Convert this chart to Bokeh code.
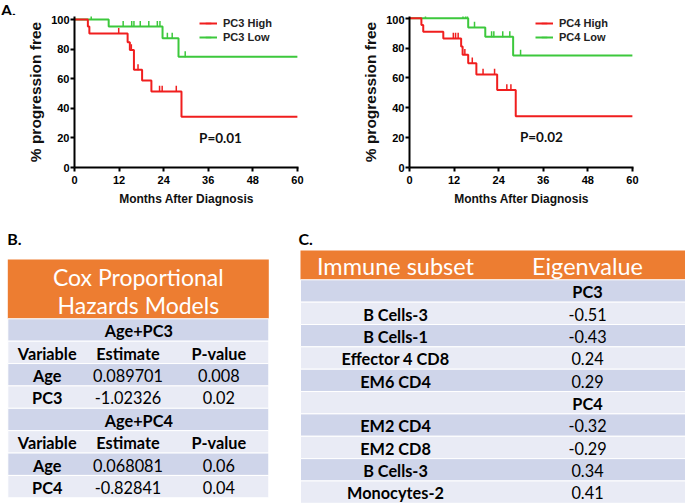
import numpy as np
from bokeh.plotting import figure
from bokeh.models import Range1d, FixedTicker, Legend, LegendItem, Label
from bokeh.layouts import column, row
from bokeh.core.properties import value
from bokeh.embed import file_html
from bokeh.resources import INLINE

# ---------------- data ----------------
month_ticks = [0, 12, 24, 36, 48, 60]
pct_ticks = [0, 20, 40, 60, 80, 100]

# Kaplan-Meier steps (time in months, % progression free)
pc3_high_t = [0, 3.6, 4.0, 14.3, 14.9, 16.0, 18.2, 20.7, 28.8, 60]
pc3_high_s = [100, 95.2, 90.5, 84.7, 79.4, 66.0, 58.7, 51.4, 34.3, 34.3]
pc3_high_c = [11.9, 15.3, 17.1, 22.9, 23.6, 27.4]
pc3_low_t = [0, 9.2, 23.7, 28.0, 60]
pc3_low_s = [100, 95.2, 87.3, 74.8, 74.8]
pc3_low_c = [4.5, 13.1, 15.4, 16.0, 17.7, 20.0, 22.3, 23.0, 25.0, 26.3, 29.8]

pc4_high_t = [0, 3.2, 3.7, 9.1, 13.9, 14.3, 15.8, 18.0, 23.6, 28.6, 60]
pc4_high_s = [100, 95.5, 90.9, 86.4, 81.0, 75.6, 69.8, 62.3, 51.9, 34.4, 34.4]
pc4_high_c = [11.8, 12.4, 13.1, 14.9, 16.9, 19.8, 22.9, 26.2, 27.3]
pc4_low_t = [0, 15.8, 20.4, 27.9, 60]
pc4_low_s = [100, 93.8, 87.5, 75.0, 75.0]
pc4_low_c = [4.3, 14.4, 15.1, 15.6, 17.5, 22.1, 22.7, 25.1, 27.0, 29.9]

p_values = ["P=0.01", "P=0.02"]

# Cox table
cox_title = ["Cox Proportional", "Hazards Models"]
cox_models = ["Age+PC3", "Age+PC4"]
cox_header = ["Variable", "Estimate", "P-value"]
cox_vars = [["Age", "PC3"], ["Age", "PC4"]]
cox_est = [["0.089701", "-1.02326"], ["0.068081", "-0.82841"]]
cox_p = [["0.008", "0.02"], ["0.06", "0.04"]]

# Immune subset table
imm_header = ["Immune subset", "Eigenvalue"]
imm_pcs = ["PC3", "PC4"]
pc3_subsets = ["B Cells-3", "B Cells-1", "Effector 4 CD8", "EM6 CD4"]
pc3_eig = [-0.51, -0.43, 0.24, 0.29]
pc4_subsets = ["EM2 CD4", "EM2 CD8", "B Cells-3", "Monocytes-2"]
pc4_eig = [-0.32, -0.29, 0.34, 0.41]

# ---------------- layout constants ----------------
W, H = 685, 503
STRIP_H = 15                 # strip holding the "A." label
TOP_H = 215                  # bottom of the KM row
KM_H = TOP_H - STRIP_H
BOT_H = H - TOP_H
KM1_W = 340
KM2_W = W - KM1_W
TB_W = 285
TC_W = W - TB_W
FRAME_TOP = 16               # page row of KM frame top
FRAME_BOT = 167              # page row of KM x axis

RED = "#F01E1E"
GREEN = "#3CC83C"
ORANGE = "#ED7D31"
DARK = "#CFD5EA"
LIGHT = "#E9EBF5"
AXFONT = "Liberation Sans"
TFONT = "Lato"


def surv_at(ts, ss, cs):
    ts = np.asarray(ts, dtype=float)
    ss = np.asarray(ss, dtype=float)
    idx = np.searchsorted(ts, np.asarray(cs, dtype=float), side="right") - 1
    return ss[idx]


def km_figure(width, canvas_left_ref, x0_ref, x60_ref, y100_ref,
              series, p_text, p_xy, legend_left_ref):
    ppm = (x60_ref - x0_ref) / 60.0
    ppp = (FRAME_BOT - y100_ref) / 100.0
    xmax = 60.3
    ymax = (FRAME_BOT - FRAME_TOP) / ppp
    left = round(x0_ref - canvas_left_ref)
    right = width - round(x0_ref + xmax * ppm - canvas_left_ref)
    p = figure(width=width, height=KM_H, x_range=Range1d(0, xmax), y_range=Range1d(0, ymax),
               title=None,
               min_border_left=left, min_border_right=right,
               min_border_top=FRAME_TOP - STRIP_H, min_border_bottom=TOP_H - FRAME_BOT,
               output_backend="svg", toolbar_location=None, outline_line_color=None)
    p.grid.visible = False
    p.xaxis.ticker = FixedTicker(ticks=month_ticks)
    p.yaxis.ticker = FixedTicker(ticks=pct_ticks)
    p.xaxis.axis_label = "Months After Diagnosis"
    p.yaxis.axis_label = "% progression free"
    for ax in (p.xaxis[0], p.yaxis[0]):
        ax.axis_line_width = 2
        ax.axis_line_color = "black"
        ax.major_tick_line_width = 2
        ax.major_tick_line_color = "black"
        ax.major_tick_out = 4
        ax.major_tick_in = 0
        ax.minor_tick_line_color = None
        ax.major_label_text_font = AXFONT
        ax.major_label_text_font_style = "bold"
        ax.major_label_text_font_size = "11px"
        ax.major_label_text_color = "black"
        ax.axis_label_text_font = AXFONT
        ax.axis_label_text_font_style = "bold"
        ax.axis_label_text_color = "#111111"
    p.xaxis.major_label_standoff = 4
    p.xaxis.axis_label_standoff = 5
    p.xaxis.axis_label_text_font_size = "12px"
    p.yaxis.major_label_standoff = 1
    p.yaxis.axis_label_standoff = 4
    p.yaxis.axis_label_text_font_size = "15.5px"

    rends = {}
    for (label, ts, ss, cs, color) in series:
        ln = p.step(x=ts, y=ss, mode="after", line_color=color, line_width=2)
        cy = surv_at(ts, ss, cs) + 1.8
        sc = p.scatter(x=cs, y=cy, marker="dash", angle=np.pi / 2, size=6,
                       line_color=color, line_width=1.5, fill_color=color)
        rends[label] = (ln, sc)
    items = [LegendItem(label=label, renderers=list(rends[label]))
             for (label, ts, ss, cs, color) in reversed(series)]
    lx = round(legend_left_ref - x0_ref)
    ly = round(FRAME_BOT - 44.0)
    leg = Legend(items=items, location=(lx, ly), orientation="vertical",
                 glyph_width=18, glyph_height=14, label_height=14, spacing=0,
                 padding=0, margin=0, label_standoff=6,
                 border_line_color=None, background_fill_alpha=0,
                 label_text_font=AXFONT, label_text_font_style="bold",
                 label_text_font_size="11px", label_text_color="#222222")
    p.add_layout(leg, "center")

    p.add_layout(Label(x=p_xy[0], y=p_xy[1], text=p_text, text_align="center",
                       text_baseline="middle", text_font=TFONT, text_font_style="bold",
                       text_font_size="13.5px", text_color="#111111"))
    return p


def text_fig(width, y_top, height, x_start):
    p = figure(width=width, height=height,
               x_range=Range1d(x_start, x_start + width),
               y_range=Range1d(y_top + height, y_top), title=None,
               min_border=0, min_border_left=0, min_border_right=0,
               min_border_top=0, min_border_bottom=0,
               x_axis_location=None, y_axis_location=None,
               output_backend="svg", toolbar_location=None, outline_line_color=None)
    p.grid.visible = False
    return p


def put_text(p, xs, ys, texts, size, style="normal", color="black", align="center"):
    p.text(x=xs, y=ys, text=texts, text_align=align, text_baseline="middle",
           text_font=value(TFONT), text_font_size=value(size), text_font_style=style,
           text_color=color)


# ---- strip with panel label A ----
strip = text_fig(W, 0, STRIP_H, 0)
put_text(strip, [0.5], [8.5], ["A."], "16px", style="bold", align="left")

# series drawn green first, red on top
km1 = km_figure(KM1_W, 0, 74.0, 297.3, 19.0,
                [("PC3 Low", pc3_low_t, pc3_low_s, pc3_low_c, GREEN),
                 ("PC3 High", pc3_high_t, pc3_high_s, pc3_high_c, RED)],
                p_values[0], (39.3, 20.1), 199.0)
km2 = km_figure(KM2_W, 340, 409.0, 632.0, 17.7,
                [("PC4 Low", pc4_low_t, pc4_low_s, pc4_low_c, GREEN),
                 ("PC4 High", pc4_high_t, pc4_high_s, pc4_high_c, RED)],
                p_values[1], (35.5, 20.3), 535.0)

# ---- Table B ----
tb = text_fig(TB_W, TOP_H, BOT_H, 0)
bL, bR, bHt, bHb, bRow = 7.3, 268.3, 259.0, 318.3, 22.375
tb.quad(left=[bL], right=[bR], top=[bHt], bottom=[bHb], fill_color=ORANGE, line_color=None)
rows_b = []
for m, model in enumerate(cox_models):
    rows_b.append(("section", model))
    rows_b.append(("header", cox_header))
    for v in range(len(cox_vars[m])):
        rows_b.append(("data", [cox_vars[m][v], cox_est[m][v], cox_p[m][v]]))
tops = [bHb + i * bRow for i in range(len(rows_b))]
tb.quad(left=[bL] * len(rows_b), right=[bR] * len(rows_b), top=tops,
        bottom=[t + bRow for t in tops],
        fill_color=[DARK if i % 2 == 0 else LIGHT for i in range(len(rows_b))],
        line_color="white", line_width=1)
put_text(tb, [137.8, 137.8], [276.5, 304.0], cox_title, "23px", color="white")
colx_b = [46.7, 127.5, 218.3]
for i, (kind, content) in enumerate(rows_b):
    yc = tops[i] + bRow / 2 + 0.8
    if kind == "section":
        put_text(tb, [138.3], [yc], [content], "16.3px", style="bold")
    elif kind == "header":
        put_text(tb, colx_b, [yc] * 3, content, "16.3px", style="bold")
    else:
        put_text(tb, [colx_b[0]], [yc], [content[0]], "16.3px", style="bold")
        put_text(tb, colx_b[1:], [yc] * 2, content[1:], "16.3px")
put_text(tb, [6.7], [238.0], ["B."], "16px", style="bold", align="left")

# ---- Table C ----
tc = text_fig(TC_W, TOP_H, BOT_H, TB_W)
cL, cR, cHt, cHb, cRow = 300.0, 685.0, 250.0, 279.3, 22.35
tc.quad(left=[cL], right=[cR], top=[cHt], bottom=[cHb], fill_color=ORANGE, line_color=None)
rows_c = []
for pc, subs, eigs in zip(imm_pcs, [pc3_subsets, pc4_subsets], [pc3_eig, pc4_eig]):
    rows_c.append(("section", pc))
    for s, e in zip(subs, eigs):
        rows_c.append(("data", [s, f"{e:.2f}"]))
tops_c = [cHb + i * cRow for i in range(len(rows_c))]
tc.quad(left=[cL] * len(rows_c), right=[cR] * len(rows_c), top=tops_c,
        bottom=[t + cRow for t in tops_c],
        fill_color=[DARK if i % 2 == 0 else LIGHT for i in range(len(rows_c))],
        line_color="white", line_width=1)
colx_c = [395.0, 587.0]
put_text(tc, colx_c, [265.0, 265.0], imm_header, "23.5px", color="white")
for i, (kind, content) in enumerate(rows_c):
    yc = tops_c[i] + cRow / 2 + 0.8
    if kind == "section":
        put_text(tc, [colx_c[1]], [yc], [content], "16.3px", style="bold")
    else:
        put_text(tc, [colx_c[0]], [yc], [content[0]], "16.3px", style="bold")
        put_text(tc, [colx_c[1]], [yc], [content[1]], "16.3px")
put_text(tc, [298.0], [238.0], ["C."], "16px", style="bold", align="left")

layout = column(strip, row(km1, km2), row(tb, tc))
with open("out.html", "w") as f:
    f.write(file_html(layout, INLINE, title="chart"))
